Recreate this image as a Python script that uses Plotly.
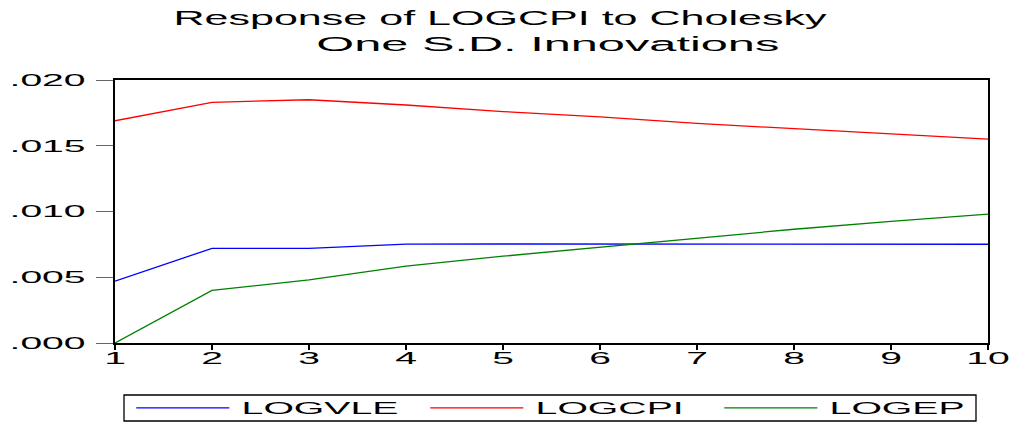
import plotly.graph_objects as go

# Impulse responses of LOGCPI over a 10-period horizon
periods = [1, 2, 3, 4, 5, 6, 7, 8, 9, 10]
logvle = [0.0047, 0.0072, 0.0072, 0.00752, 0.00753, 0.00753, 0.00753, 0.00753, 0.00752, 0.00751]
logcpi = [0.0169, 0.0183, 0.0185, 0.0181, 0.0176, 0.0172, 0.0167, 0.0163, 0.0159, 0.0155]
logep = [0.0, 0.0040, 0.0048, 0.00585, 0.0066, 0.0073, 0.0080, 0.00865, 0.00925, 0.0098]

y_tickvals = [0.0, 0.005, 0.010, 0.015, 0.020]
y_ticktext = [".000", ".005", ".010", ".015", ".020"]

FONT = "Liberation Sans, Arial, sans-serif"

fig = go.Figure()
fig.add_trace(go.Scatter(x=periods, y=logvle, mode="lines", name="LOGVLE",
                         line=dict(color="#0000FF", width=1.3)))
fig.add_trace(go.Scatter(x=periods, y=logcpi, mode="lines", name="LOGCPI",
                         line=dict(color="#FF0000", width=1.3)))
fig.add_trace(go.Scatter(x=periods, y=logep, mode="lines", name="LOGEP",
                         line=dict(color="#008000", width=1.3)))

# Frame around the legend strip below the plot
legend_frame = dict(type="rect", xref="paper", yref="paper",
                    x0=(124 - 115) / 873, x1=(976 - 115) / 873,
                    y0=(343 - 421) / 263, y1=(343 - 395) / 263,
                    line=dict(color="black", width=1.3), fillcolor="rgba(0,0,0,0)",
                    layer="above")

fig.update_layout(
    width=1011, height=423,
    margin=dict(l=115, r=23, t=80, b=80, autoexpand=False),
    paper_bgcolor="white", plot_bgcolor="white",
    font=dict(family=FONT, color="black"),
    title=dict(text="Response of LOGCPI to Cholesky", x=500 / 1011, xanchor="center",
               xref="container", yref="container", y=0.975, yanchor="top",
               font=dict(size=21, color="black")),
    annotations=[dict(text="One S.D. Innovations", xref="paper", yref="paper",
                      x=(548 - 115) / 873, y=(343 - 44) / 263, xanchor="center", yanchor="middle",
                      showarrow=False, font=dict(size=21, color="black"))],
    shapes=[legend_frame],
    showlegend=True,
    legend=dict(orientation="h", xref="paper", yref="paper",
                x=(124 - 115) / 873, xanchor="left", y=(343 - 408) / 263, yanchor="middle",
                borderwidth=0, bgcolor="rgba(0,0,0,0)",
                font=dict(size=16, color="black"),
                entrywidth=67, entrywidthmode="pixels", itemwidth=38, tracegroupgap=0),
    xaxis=dict(range=[1, 10], tickvals=periods, ticks="outside", ticklen=5, tickwidth=1.5,
               tickcolor="black", showgrid=False, zeroline=False, showline=True,
               linecolor="black", linewidth=2, mirror=True, ticklabelstandoff=-6,
               tickfont=dict(size=17, color="black")),
    yaxis=dict(range=[0, 0.020], tickvals=y_tickvals, ticktext=y_ticktext, ticks="outside",
               ticklen=17, tickwidth=1, tickcolor="#666666", showgrid=False, zeroline=False,
               showline=True, linecolor="black", linewidth=2, mirror=True,
               ticklabelstandoff=7, tickfont=dict(size=17, color="black")),
)

# Widen the lettering horizontally around each label's anchor point
stretch_js = """
var gd = document.getElementById('{plot_id}');
function stretch(el, f) {
  var x = parseFloat(el.getAttribute('x')) || 0;
  var t = el.getAttribute('transform') || '';
  el.setAttribute('transform', t + ' translate(' + x + ',0) scale(' + f + ',1) translate(' + (-x) + ',0)');
}
gd.querySelectorAll('.xtick text, .ytick text').forEach(function(e){ stretch(e, 2.3); });
var tt = gd.querySelector('.gtitle');
if (tt) stretch(tt, 2.05);
gd.querySelectorAll('.annotation-text').forEach(function(e){ stretch(e, 2.32); });
var lg = gd.querySelector('g.legend');
if (lg) {
  var t = lg.getAttribute('transform') || '';
  lg.setAttribute('transform', t + ' scale(2.45,1)');
}
"""

fig.write_html("out.html", post_script=stretch_js)
